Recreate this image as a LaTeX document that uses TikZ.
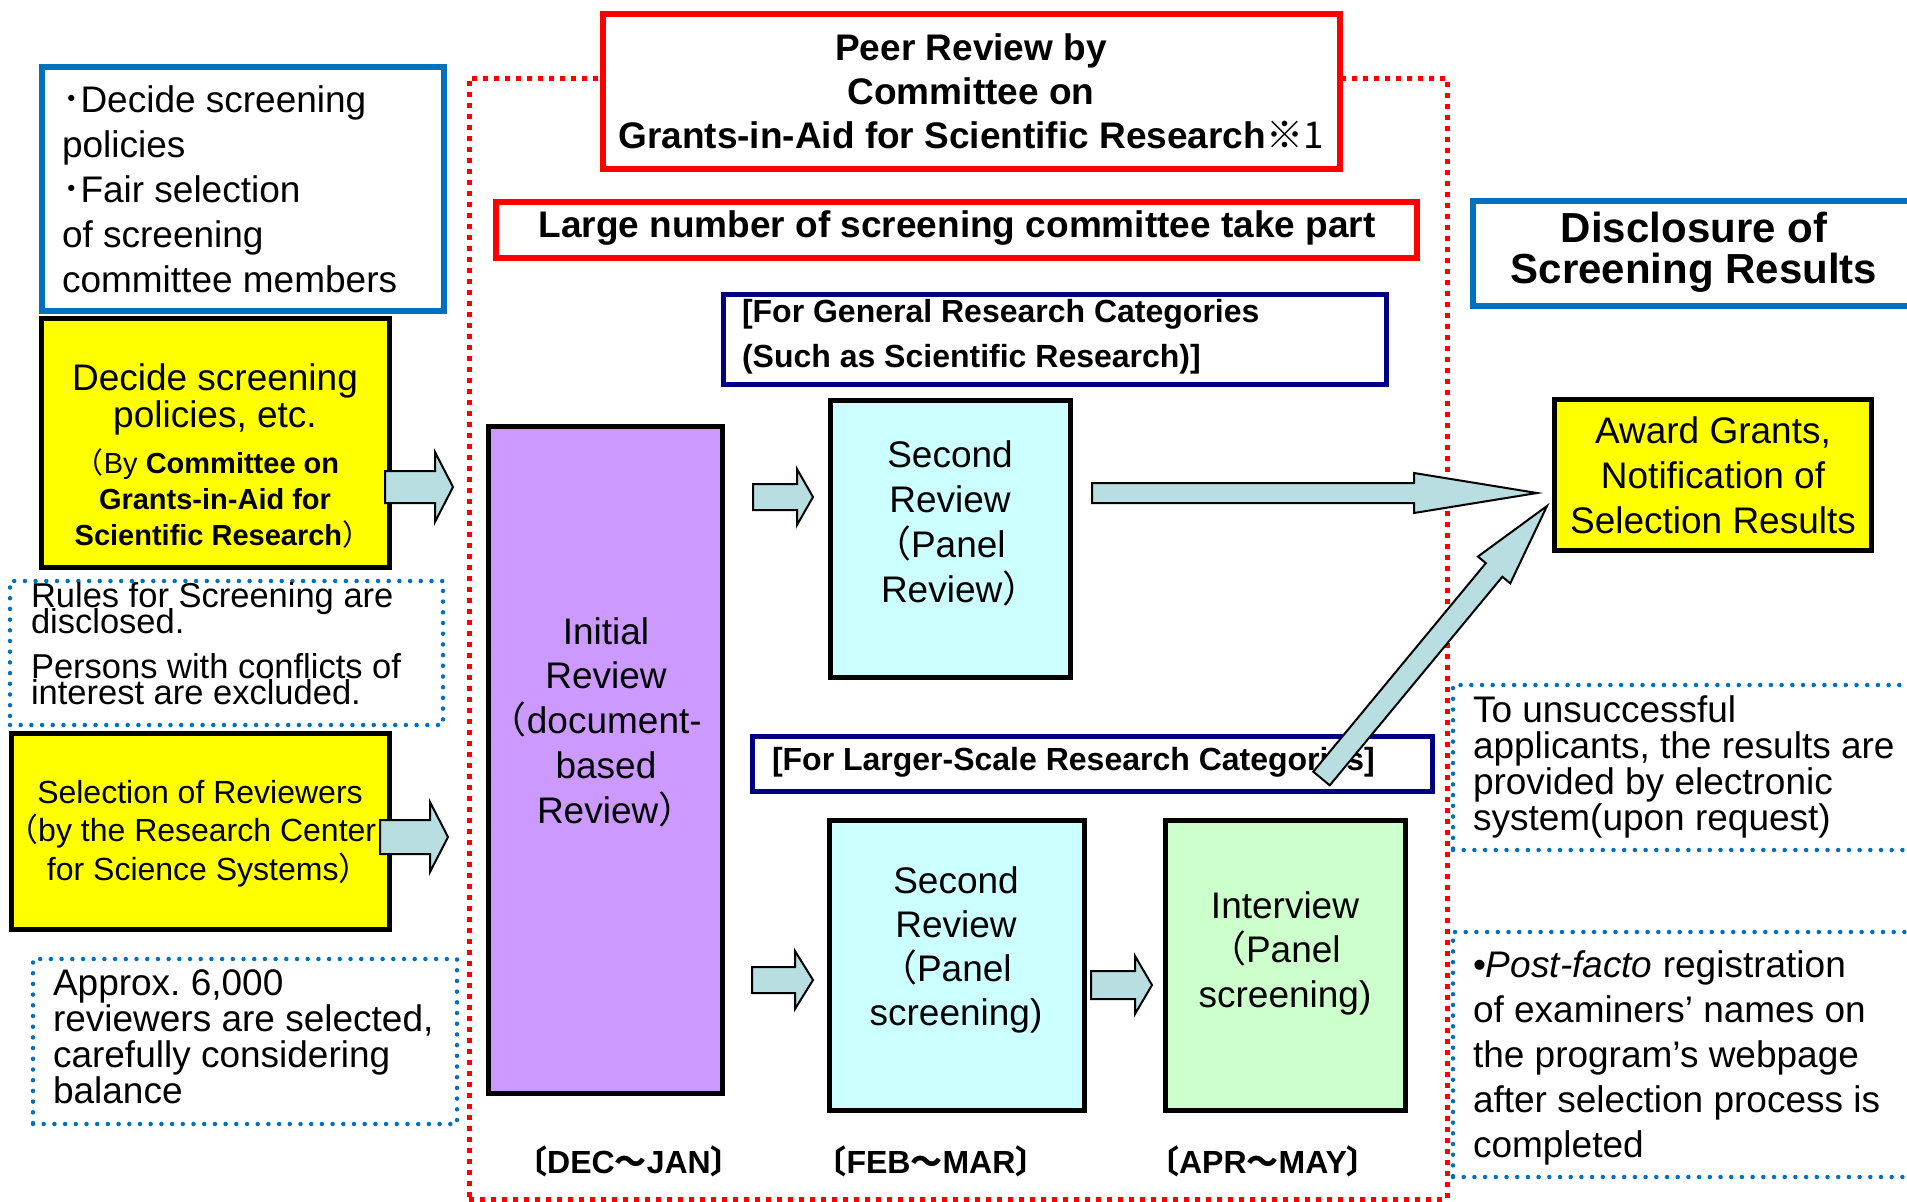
\documentclass[tikz,border=0pt]{standalone}
\usepackage{fontspec}
\setmainfont{Liberation Sans}
\newfontfamily\cjk{Noto Sans CJK JP}
\usetikzlibrary{calc}
\definecolor{kblue}{HTML}{0070C0}
\definecolor{knavy}{HTML}{000080}
\definecolor{kred}{HTML}{FF0000}
\definecolor{kyellow}{HTML}{FFFF00}
\definecolor{kpurple}{HTML}{CC99FF}
\definecolor{kcyan}{HTML}{CCFFFF}
\definecolor{kgreen}{HTML}{CCFFCC}
\definecolor{karrow}{HTML}{B8DEE2}
\newcommand\fs[2]{\fontsize{#1}{#2}\selectfont\lineskiplimit=-100pt\relax}
\newcommand\fwlp{\leavevmode\kern-0.55em{\cjk （}}
\newcommand\fwrp{{\cjk ）}\kern-0.55em\relax}
\newcommand\blockarr[5]{%
  \coordinate (ba-m) at ($(#2)!#5!(#1)$);
  \draw[blockarrow] ($(#1)!#3!90:(#2)$) -- ($(ba-m)!#3!90:(#2)$) -- ($(ba-m)!#4!90:(#2)$) -- (#2)
    -- ($(ba-m)!#4!-90:(#2)$) -- ($(ba-m)!#3!-90:(#2)$) -- ($(#1)!#3!-90:(#2)$) -- cycle;}
\tikzset{
  boxnode/.style={rectangle, inner sep=0pt, outer sep=0pt},
  blackbox/.style={boxnode, draw=black, line width=5pt},
  redbox/.style={boxnode, draw=kred, line width=6pt, fill=white},
  navybox/.style={boxnode, draw=knavy, line width=5pt, fill=white},
  bluebox/.style={boxnode, draw=kblue, line width=6pt, fill=white},
  txt/.style={inner sep=0pt, outer sep=0pt, anchor=base},
  blockarrow/.style={fill=karrow, draw=black, line width=2pt, line join=miter},
  reddots/.style={boxnode, draw=kred, line width=5pt, dash pattern=on 5pt off 6pt},
  bluedots/.style={boxnode, draw=kblue, line width=4.5pt, line cap=round, dash pattern=on 0pt off 10.7pt},
}
\begin{document}
\begin{tikzpicture}[x=1pt,y=-1pt]
\useasboundingbox (0,0) rectangle (1907,1202);
\fill[white] (0,0) rectangle (1907,1202);

% ---- left column ----
\node[bluebox, minimum width=402pt, minimum height=244pt] (pol) at (243,189) {};
\node[txt, anchor=base west] (t-pol) at (62,112) {\parbox[t]{420pt}{\raggedright\fs{37}{45}{\cjk ･}Decide screening\\policies\\{\cjk ･}Fair selection\\of screening\\committee members}};

\node[blackbox, fill=kyellow, minimum width=348pt, minimum height=248.5pt] (dec) at (215,443) {};
\node[txt] (t-dec1) at (215,390) {\parbox[t]{400pt}{\centering\fs{37}{37}Decide screening\\policies, etc.}};
\node[txt] (t-dec2) at (215,473) {\parbox[t]{400pt}{\centering\fs{29}{36}\fwlp By \textbf{Committee on}\\\textbf{Grants-in-Aid for}\\\textbf{Scientific Research}\fwrp}};

\node[bluedots, minimum width=433pt, minimum height=144pt] (rules) at (226.5,653) {};
\node[txt, anchor=base west] (t-rules1) at (31,607) {\parbox[t]{440pt}{\raggedright\fs{34.5}{26}Rules for Screening are\\disclosed.}};
\node[txt, anchor=base west] (t-rules2) at (31,678) {\parbox[t]{440pt}{\raggedright\fs{34.5}{26}Persons with conflicts of\\interest are excluded.}};

\node[blackbox, fill=kyellow, minimum width=378.5pt, minimum height=196pt] (sel) at (200.25,831) {};
\node[txt] (t-sel) at (200,803) {\parbox[t]{420pt}{\centering\fs{32}{38.5}Selection of Reviewers\\\fwlp by the Research Center\\for Science Systems\fwrp}};

\node[bluedots, minimum width=424pt, minimum height=165pt] (approx) at (245,1041.5) {};
\node[txt, anchor=base west] (t-approx) at (53,995) {\parbox[t]{440pt}{\raggedright\fs{37}{36}Approx.\ 6,000\\reviewers are selected,\\carefully considering\\balance}};

% ---- central frame ----
\node[reddots, minimum width=978pt, minimum height=1121pt] (frame) at (958,638.5) {};
\node[redbox, minimum width=737pt, minimum height=155pt] (title) at (971.5,91.5) {};
\node[txt] (t-title) at (971,60) {\parbox[t]{800pt}{\centering\bfseries\fs{37}{44}Peer Review by\\Committee on\\Grants-in-Aid for Scientific Research{\cjk\mdseries ※1}}};

\node[redbox, minimum width=921pt, minimum height=56pt] (large) at (956,229.5) {};
\node[txt] (t-large) at (957,237) {\bfseries\fs{37}{37}Large number of screening committee take part};

\node[navybox, minimum width=663pt, minimum height=90pt] (gen) at (1055,339.5) {};
\node[txt, anchor=base west] (t-gen) at (742,322) {\parbox[t]{640pt}{\raggedright\bfseries\fs{32}{45}[For General Research Categories\\(Such as Scientific Research)]}};

\node[navybox, minimum width=680pt, minimum height=55pt] (larger) at (1092.5,764) {};
\node[txt, anchor=base west] (t-larger) at (772,770) {\bfseries\fs{32}{32}[For Larger-Scale Research Categories]};

\node[blackbox, fill=kpurple, minimum width=234pt, minimum height=667pt] (init) at (605.5,760) {};
\node[txt] (t-init) at (606,644) {\parbox[t]{300pt}{\centering\fs{37}{44.75}Initial\\Review\\\fwlp document-\\based\\Review\fwrp}};

\node[blackbox, fill=kcyan, minimum width=240pt, minimum height=277pt] (sec1) at (950.5,539) {};
\node[txt] (t-sec1) at (950,467) {\parbox[t]{300pt}{\centering\fs{37}{45}Second\\Review\\\fwlp Panel\\Review\fwrp}};

\node[blackbox, fill=kcyan, minimum width=255pt, minimum height=290pt] (sec2) at (957,965.5) {};
\node[txt] (t-sec2) at (956,893) {\parbox[t]{300pt}{\centering\fs{37}{44}Second\\Review\\\fwlp Panel\\screening)}};

\node[blackbox, fill=kgreen, minimum width=240pt, minimum height=290pt] (intv) at (1285.5,965.5) {};
\node[txt] (t-intv) at (1285,918) {\parbox[t]{300pt}{\centering\fs{37}{44.5}Interview\\\fwlp Panel\\screening)}};

\node[txt] (d1) at (629,1173) {\bfseries\fs{32}{32}\kern-0.4em{\cjk 〔}DEC{\cjk ～}JAN{\cjk 〕}\kern-0.4em};
\node[txt] (d2) at (931,1173) {\bfseries\fs{32}{32}\kern-0.4em{\cjk 〔}FEB{\cjk ～}MAR{\cjk 〕}\kern-0.4em};
\node[txt] (d3) at (1263,1173) {\bfseries\fs{32}{32}\kern-0.4em{\cjk 〔}APR{\cjk ～}MAY{\cjk 〕}\kern-0.4em};

% ---- right column ----
\node[bluebox, minimum width=442.5pt, minimum height=105pt] (disc) at (1693.75,253) {};
\node[txt] (t-disc) at (1694,242) {\parbox[t]{500pt}{\centering\bfseries\fs{42}{41}Disclosure of\\Screening Results}};

\node[blackbox, fill=kyellow, minimum width=317pt, minimum height=151pt] (award) at (1713,475) {};
\node[txt] (t-award) at (1713,443) {\parbox[t]{400pt}{\centering\fs{37}{45}Award Grants,\\Notification of\\Selection Results}};

\node[bluedots, minimum width=467pt, minimum height=165pt] (unsucc) at (1686.5,767.5) {};
\node[txt, anchor=base west] (t-uns) at (1473,722) {\parbox[t]{500pt}{\raggedright\fs{37}{36}To unsuccessful\\applicants, the results are\\provided by electronic\\system(upon request)}};

\node[bluedots, minimum width=467pt, minimum height=245pt] (postf) at (1686.5,1054.5) {};
\node[txt, anchor=base west] (t-post) at (1473,977) {\parbox[t]{500pt}{\raggedright\fs{37}{45}•\textit{Post-facto} registration\\of examiners’ names on\\the program’s webpage\\after selection process is\\completed}};

% ---- block arrows ----
\coordinate (a1s) at (385,487);   \coordinate (a1e) at (453,487);
\coordinate (a2s) at (380,837);   \coordinate (a2e) at (448,837);
\coordinate (aAs) at (753,497);   \coordinate (aAe) at (813,497);
\coordinate (aBs) at (752,980);   \coordinate (aBe) at (813,980);
\coordinate (aCs) at (1091,985);  \coordinate (aCe) at (1152,985);
\coordinate (aHs) at (1092,493);  \coordinate (aHe) at (1537,493);
\coordinate (aDs) at (1321.5,778.5); \coordinate (aDe) at (1547,506);
\blockarr{a1s}{a1e}{16pt}{35pt}{18pt}
\blockarr{a2s}{a2e}{17pt}{35pt}{18pt}
\blockarr{aAs}{aAe}{13pt}{28pt}{16pt}
\blockarr{aBs}{aBe}{13pt}{29pt}{18pt}
\blockarr{aCs}{aCe}{14pt}{29pt}{17pt}
\blockarr{aHs}{aHe}{10pt}{20pt}{123pt}
\blockarr{aDs}{aDe}{10.7pt}{21pt}{83pt}
\end{tikzpicture}
\end{document}
